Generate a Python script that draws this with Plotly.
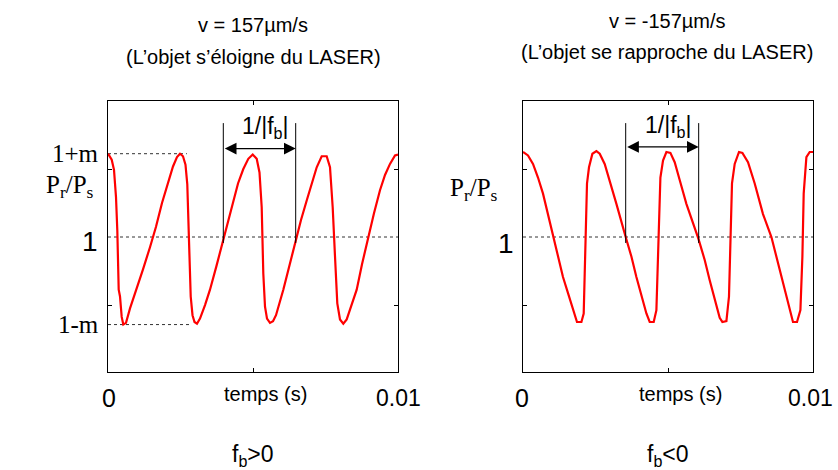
import plotly.graph_objects as go

# ---- traced signals: time (s) and deviation of Pr/Ps from 1, in units of m ----
t_left = [0, 0.000128, 0.000207, 0.000276, 0.000321, 0.000355, 0.000369, 0.000414,
          0.000472, 0.000528, 0.000621, 0.000759, 0.001000, 0.001207, 0.001448,
          0.001655, 0.001862, 0.002069, 0.002241, 0.002379, 0.002483, 0.002586,
          0.002672, 0.002734, 0.002803, 0.002852, 0.002914, 0.002983, 0.003069,
          0.003172, 0.003345, 0.003517, 0.003741, 0.003976, 0.004138, 0.004321,
          0.004483, 0.004666, 0.004838, 0.004990, 0.005128, 0.005224, 0.005300,
          0.005355, 0.005414, 0.005483, 0.005586, 0.005690, 0.005793, 0.006045,
          0.006276, 0.006472, 0.006655, 0.006852, 0.007034, 0.007197, 0.007369,
          0.007541, 0.007655, 0.007748, 0.007828, 0.007907, 0.008000, 0.008114,
          0.008231, 0.008379, 0.008576, 0.008759, 0.008976, 0.009172, 0.009379,
          0.009552, 0.009724, 0.009897, 0.010000]
dev_left = [0.98, 0.91, 0.79, 0.47, 0.08, -0.31, -0.62, -0.70,
            -0.94, -1.03, -1.01, -0.84, -0.60, -0.38, -0.12,
            0.12, 0.40, 0.65, 0.83, 0.94, 0.98, 0.95,
            0.85, 0.62, -0.04, -0.70, -0.92, -1.00, -1.02,
            -0.96, -0.80, -0.62, -0.34, -0.04, 0.20, 0.43,
            0.63, 0.80, 0.92, 0.97, 0.92, 0.76, 0.35,
            -0.43, -0.82, -0.96, -1.01, -0.99, -0.92, -0.62,
            -0.31, -0.04, 0.20, 0.43, 0.65, 0.82, 0.95,
            0.95, 0.82, 0.35, -0.23, -0.78, -0.97, -1.02,
            -0.97, -0.83, -0.62, -0.32, 0.00, 0.28, 0.55,
            0.73, 0.86, 0.96, 0.97]

t_right = [0, 0.000172, 0.000345, 0.000517, 0.000690, 0.000862, 0.001034, 0.001207,
           0.001379, 0.001552, 0.001724, 0.001862, 0.002014, 0.002093, 0.002128,
           0.002162, 0.002207, 0.002276, 0.002393, 0.002531, 0.002645, 0.002817,
           0.002990, 0.003221, 0.003541, 0.003738, 0.003910, 0.004083, 0.004255,
           0.004369, 0.004507, 0.004600, 0.004645, 0.004690, 0.004738, 0.004828,
           0.004945, 0.005083, 0.005231, 0.005403, 0.005634, 0.006048, 0.006266,
           0.006438, 0.006610, 0.006783, 0.006876, 0.007014, 0.007103, 0.007152,
           0.007207, 0.007300, 0.007448, 0.007566, 0.007759, 0.007990, 0.008276,
           0.008566, 0.008793, 0.009024, 0.009197, 0.009310, 0.009448, 0.009566,
           0.009634, 0.009679, 0.009772, 0.009886, 0.010000]
dev_right = [1.00, 0.96, 0.86, 0.70, 0.51, 0.27, 0.00, -0.23,
             -0.47, -0.66, -0.86, -1.00, -1.00, -0.90, -0.43,
             0.08, 0.63, 0.82, 0.98, 1.01, 0.98, 0.86,
             0.67, 0.39, 0.00, -0.23, -0.47, -0.70, -0.90,
             -1.00, -1.00, -0.86, -0.31, 0.27, 0.70, 0.90,
             1.00, 0.99, 0.88, 0.67, 0.39, -0.02, -0.27,
             -0.51, -0.74, -0.95, -1.00, -0.99, -0.70, 0.08,
             0.63, 0.86, 1.00, 0.99, 0.88, 0.63, 0.27,
             0.00, -0.31, -0.63, -0.86, -1.00, -1.00, -0.86,
             -0.23, 0.51, 0.94, 1.00, 1.00]

# beat period markers (crossings of Pr/Ps = 1)
period_left = [0.003976, 0.006472]
period_right = [0.003541, 0.006058]

titles_left = ["v = 157µm/s", "(L’objet s’éloigne du LASER)"]
titles_right = ["v = -157µm/s", "(L’objet se rapproche du LASER)"]
captions = ["f<sub>b</sub>>0", "f<sub>b</sub><0"]
y_labels_left = ["1+m", "1", "1-m"]

W, H = 838, 470
SANS = "Liberation Sans, Arial, sans-serif"
SERIF = "Liberation Serif, Times New Roman, serif"
RED = "#ff0000"


def px(x):
    return x / W


def py(y):
    return 1 - y / H


fig = go.Figure()
fig.add_trace(go.Scatter(x=t_left, y=dev_left, mode="lines",
                         line=dict(color=RED, width=2.2), xaxis="x", yaxis="y",
                         showlegend=False, hoverinfo="skip"))
fig.add_trace(go.Scatter(x=t_right, y=dev_right, mode="lines",
                         line=dict(color=RED, width=2.2), xaxis="x2", yaxis="y2",
                         showlegend=False, hoverinfo="skip"))

y_dom = [py(372), py(101)]
y_rng = [-1.588, 1.6]
ax_common = dict(showline=True, linecolor="black", linewidth=1, mirror="ticks",
                 ticks="inside", ticklen=4, tickcolor="black", showgrid=False,
                 zeroline=False, showticklabels=False, fixedrange=True)
fig.update_layout(
    width=W, height=H, margin=dict(l=0, r=0, t=0, b=0),
    paper_bgcolor="white", plot_bgcolor="white",
    xaxis=dict(domain=[px(108), px(398)], range=[0, 0.01], tickvals=[0.005], **ax_common),
    yaxis=dict(domain=y_dom, range=y_rng, tickvals=[-0.8, 0.8], **ax_common),
    xaxis2=dict(domain=[px(523), px(813)], range=[0, 0.01], tickvals=[0.005],
                anchor="y2", **ax_common),
    yaxis2=dict(domain=y_dom, range=y_rng, tickvals=[-0.8, 0.8], anchor="x2", **ax_common),
)

shapes = []
dot = dict(color="#333333", width=1, dash="dot")
# reference levels
shapes.append(dict(type="line", xref="x", yref="y", x0=0, x1=0.01, y0=0, y1=0, line=dot, layer="below"))
shapes.append(dict(type="line", xref="x", yref="y", x0=0, x1=0.00272, y0=0.98, y1=0.98, line=dot, layer="below"))
shapes.append(dict(type="line", xref="x", yref="y", x0=0, x1=0.00283, y0=-1.03, y1=-1.03, line=dot, layer="below"))
shapes.append(dict(type="line", xref="x2", yref="y2", x0=0, x1=0.01, y0=0, y1=0, line=dot, layer="below"))
# period bracket lines
for xr, yr, tp in (("x", "y", period_left), ("x2", "y2", period_right)):
    for t in tp:
        shapes.append(dict(type="line", xref=xr, yref=yr, x0=t, x1=t, y0=-0.07, y1=1.34,
                           line=dict(color="black", width=1)))
fig.update_layout(shapes=shapes)

ann = []
# double-headed period arrows and their labels
for xr, yr, tp, ya in (("x", "y", period_left, 1.04), ("x2", "y2", period_right, 1.06)):
    ann.append(dict(xref=xr, yref=yr, axref=xr, ayref=yr, x=tp[1], y=ya, ax=tp[0], ay=ya,
                    showarrow=True, arrowhead=2, startarrowhead=2, arrowside="end+start",
                    arrowsize=1.8, startarrowsize=1.8, arrowwidth=1.3, arrowcolor="black", text=""))
    ann.append(dict(xref=xr, yref=yr, x=(tp[0] + tp[1]) / 2 + 0.0002, y=ya + 0.05,
                    yanchor="bottom", showarrow=False, text="1/|f<sub>b</sub>|",
                    font=dict(family=SANS, size=23, color="black")))

# titles
for cx, tl, y1, y2 in ((253, titles_left, 25, 57), (667, titles_right, 21, 52)):
    ann.append(dict(xref="paper", yref="paper", x=px(cx), y=py(y1), text=tl[0], showarrow=False,
                    xanchor="center", yanchor="middle", font=dict(family=SANS, size=20, color="black")))
    ann.append(dict(xref="paper", yref="paper", x=px(cx), y=py(y2), text=tl[1], showarrow=False,
                    xanchor="center", yanchor="middle", font=dict(family=SANS, size=20, color="black")))

# x tick labels and axis name
for x0, x1, xc in ((109, 398, 265), (522, 810, 680)):
    ann.append(dict(xref="paper", yref="paper", x=px(x0), y=py(398), text="0", showarrow=False,
                    xanchor="center", yanchor="middle", font=dict(family=SANS, size=25, color="black")))
    ann.append(dict(xref="paper", yref="paper", x=px(x1), y=py(398), text="0.01", showarrow=False,
                    xanchor="center", yanchor="middle", font=dict(family=SANS, size=23, color="black")))
    ann.append(dict(xref="paper", yref="paper", x=px(xc), y=py(394), text="temps (s)", showarrow=False,
                    xanchor="center", yanchor="middle", font=dict(family=SANS, size=20, color="black")))

# captions
for cx, cap in ((253, captions[0]), (668, captions[1])):
    ann.append(dict(xref="paper", yref="paper", x=px(cx), y=py(455), text=cap, showarrow=False,
                    xanchor="center", yanchor="middle", font=dict(family=SANS, size=23, color="black")))

# y labels
ann.append(dict(xref="paper", yref="paper", x=px(101), y=py(153), text=y_labels_left[0], showarrow=False,
                xanchor="right", yanchor="middle", font=dict(family=SERIF, size=25, color="black")))
ann.append(dict(xref="paper", yref="paper", x=px(100), y=py(241), text=y_labels_left[1], showarrow=False,
                xanchor="right", yanchor="middle", font=dict(family=SANS, size=28, color="black")))
ann.append(dict(xref="paper", yref="paper", x=px(101), y=py(324), text=y_labels_left[2], showarrow=False,
                xanchor="right", yanchor="middle", font=dict(family=SERIF, size=25, color="black")))
ann.append(dict(xref="paper", yref="paper", x=px(516), y=py(243), text="1", showarrow=False,
                xanchor="right", yanchor="middle", font=dict(family=SANS, size=28, color="black")))
for cx, cy in ((70, 186), (474, 189)):
    ann.append(dict(xref="paper", yref="paper", x=px(cx), y=py(cy),
                    text="P<sub>r</sub>/P<sub>s</sub>", showarrow=False,
                    xanchor="center", yanchor="middle", font=dict(family=SERIF, size=25, color="black")))

fig.update_layout(annotations=ann)
fig.write_html("out.html")
